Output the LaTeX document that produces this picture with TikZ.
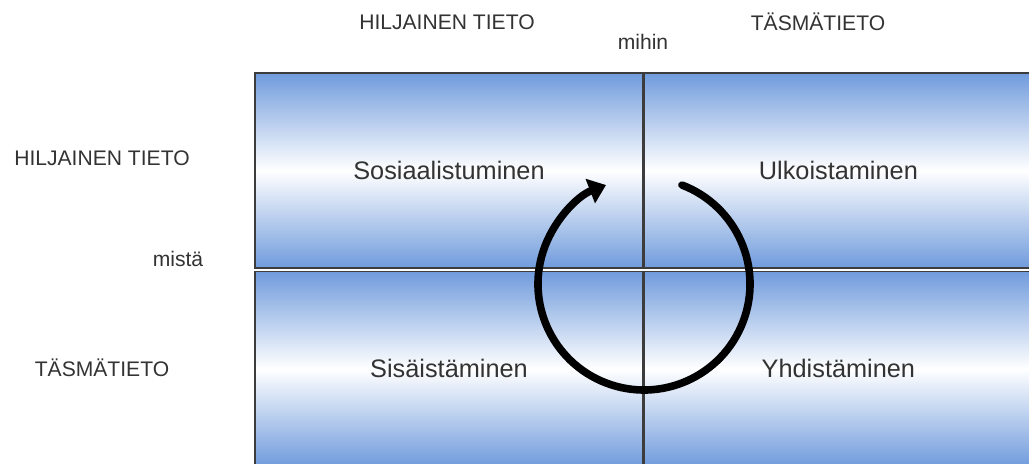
\documentclass[tikz,border=0pt]{standalone}
\usepackage{fontspec}
\setmainfont{Liberation Sans}
\usetikzlibrary{positioning,arrows.meta}
\definecolor{quadblue}{RGB}{112,155,220}
\definecolor{quadline}{RGB}{60,60,60}

\begin{document}
\begin{tikzpicture}[x=0.025cm,y=0.025cm,
  quad/.style={draw=quadline,line width=0.9pt,top color=quadblue,bottom color=quadblue,middle color=white,
    minimum width=9.7cm,minimum height=4.875cm,inner sep=0pt,text=black!80,font=\fontsize{18}{22}\selectfont},
  axis/.style={font=\fontsize{15}{18}\selectfont,text=black!80}]
\clip (0,0) rectangle (1029,464);
\node[quad] (sos) at (449,293.5) {Sosiaalistuminen};
\node[quad,right=0pt of sos] (ulk) {Ulkoistaminen};
\node[quad,below=0.05cm of sos] (sis) {Sisäistäminen};
\node[quad,below=0.05cm of ulk] (yhd) {Yhdistäminen};

\node[axis] (hilj1) at (447,442) {HILJAINEN TIETO};
\node[axis] (tasm1) at (818,442) {TÄSMÄTIETO};
\node[axis] (mihin) at (643,422) {mihin};
\node[axis] (hilj2) at (102,306) {HILJAINEN TIETO};
\node[axis] (mista) at (178,205) {mistä};
\node[axis] (tasm2) at (102,96) {TÄSMÄTIETO};

% kierre
\coordinate (c) at (644,180);
\draw[line width=5.4pt,line cap=round,-{Triangle[length=12pt,width=18pt]}]
  ([shift={(69:106)}]c) arc[start angle=69,end angle=-249,radius=106];
\end{tikzpicture}
\end{document}
